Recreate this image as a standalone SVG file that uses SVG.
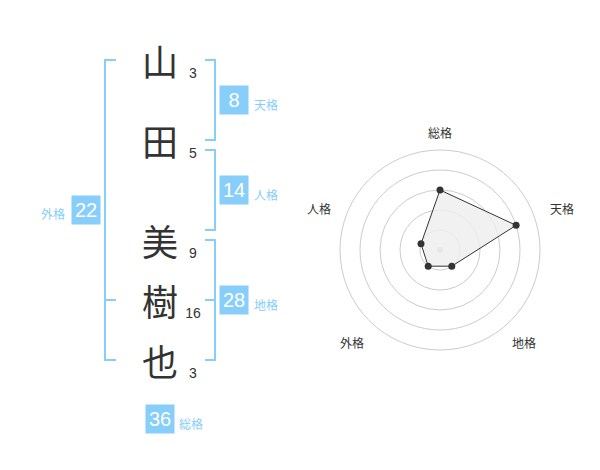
<svg xmlns="http://www.w3.org/2000/svg" width="600" height="470" viewBox="0 0 600 470">
<style>
.kanji{font-family:"Noto Sans CJK JP","Noto Sans CJK SC",sans-serif;font-size:36px;fill:#333;text-anchor:middle;dominant-baseline:central}
.num{font-family:"Liberation Sans",Arial,sans-serif;font-size:14px;fill:#333;text-anchor:middle}
.br{fill:none;stroke:#87cefa;stroke-width:2}
.box{fill:#87cefa}
.bnum{font-family:"Liberation Sans",Arial,sans-serif;font-size:20px;fill:#fff;text-anchor:middle;dominant-baseline:central}
.lab{font-family:"Noto Sans CJK JP","Noto Sans CJK SC",sans-serif;font-size:12px;fill:#87cefa;dominant-baseline:central}
.rlab{font-family:"Noto Sans CJK JP","Noto Sans CJK SC",sans-serif;font-size:12px;fill:#333;text-anchor:middle;dominant-baseline:central}
.ring{fill:none;stroke:#cccccc;stroke-width:1}
.pt{fill:#333}
</style>
<rect width="600" height="470" fill="#fff"/>
<g id="name">
<text class="kanji" x="160" y="60">山</text>
<text class="kanji" x="160" y="140">田</text>
<text class="kanji" x="160" y="240">美</text>
<text class="kanji" x="160" y="300">樹</text>
<text class="kanji" x="160" y="360">也</text>
<text class="num" x="193" y="78">3</text>
<text class="num" x="193" y="158">5</text>
<text class="num" x="193" y="258">9</text>
<text class="num" x="193" y="318">16</text>
<text class="num" x="193" y="378">3</text>
</g>
<g id="brackets">
<path class="br" d="M205,60 H215 V140 H205"/>
<path class="br" d="M205,150 H215 V230 H205"/>
<path class="br" d="M205,240 H215 V360 H205 M205,300 H215"/>
<path class="br" d="M116,60 H105 V360 H116 M105,300 H116"/>
</g>
<g id="tenkaku">
<rect class="box" x="219.5" y="85.5" width="29" height="29"/>
<text class="bnum" x="234" y="100">8</text>
<text class="lab" x="254" y="104">天格</text>
</g>
<g id="jinkaku">
<rect class="box" x="219.5" y="175.5" width="29" height="29"/>
<text class="bnum" x="234" y="190">14</text>
<text class="lab" x="254" y="194">人格</text>
</g>
<g id="chikaku">
<rect class="box" x="219.5" y="285.5" width="29" height="29"/>
<text class="bnum" x="234" y="300">28</text>
<text class="lab" x="254" y="304">地格</text>
</g>
<g id="gaikaku">
<rect class="box" x="71.5" y="195.5" width="29" height="29"/>
<text class="bnum" x="86" y="210">22</text>
<text class="lab" x="41" y="213">外格</text>
</g>
<g id="soukaku">
<rect class="box" x="145.5" y="404.5" width="29" height="29"/>
<text class="bnum" x="160" y="419">36</text>
<text class="lab" x="179" y="423">総格</text>
</g>
<g id="radar">
<circle class="ring" cx="440" cy="250" r="20"/>
<circle class="ring" cx="440" cy="250" r="40"/>
<circle class="ring" cx="440" cy="250" r="60"/>
<circle class="ring" cx="440" cy="250" r="80"/>
<circle class="ring" cx="440" cy="250" r="100"/>
<circle cx="440" cy="250" r="3" fill="#cccccc"/>
<polygon points="440,190 516.1,225.3 451.8,266.2 428.2,266.2 421,243.8" fill="#eeeeee" fill-opacity="0.8" stroke="#333" stroke-width="1"/>
<circle class="pt" cx="440" cy="190" r="3.5"/>
<circle class="pt" cx="516.1" cy="225.3" r="3.5"/>
<circle class="pt" cx="451.8" cy="266.2" r="3.5"/>
<circle class="pt" cx="428.2" cy="266.2" r="3.5"/>
<circle class="pt" cx="421" cy="243.8" r="3.5"/>
<text class="rlab" x="440" y="132">総格</text>
<text class="rlab" x="562" y="208">天格</text>
<text class="rlab" x="524" y="342">地格</text>
<text class="rlab" x="352" y="342">外格</text>
<text class="rlab" x="319" y="208">人格</text>
</g>
</svg>
